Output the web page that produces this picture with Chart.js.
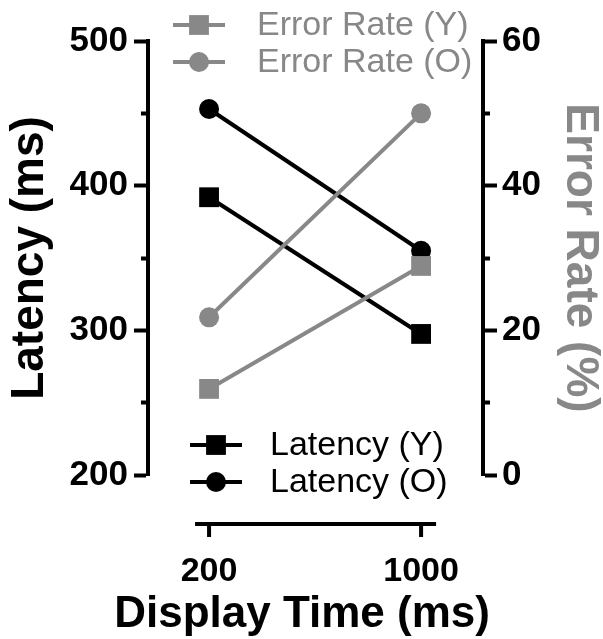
<!DOCTYPE html>
<html>
<head>
<meta charset="utf-8">
<script src="https://cdn.jsdelivr.net/npm/chart.js@4.4.1/dist/chart.umd.min.js"></script>
<style>
  html, body { margin: 0; padding: 0; background: #fff; }
  #wrap { width: 603px; height: 639px; position: relative; }
</style>
</head>
<body>
<div id="wrap"><canvas id="chart"></canvas></div>
<script>
// Data
const categories = ["200", "1000"];
const latencyY = [392, 297.5];
const latencyO = [453, 355];
const errorY = [11.9, 28.9];
const errorO = [21.8, 50];
const latencyTicks = [200, 300, 400, 500];
const errorTicks = [0, 20, 40, 60];
const xTitle = "Display Time (ms)";

const BLACK = "#000000";
const GRAY = "#888888";
const FONT = "'Liberation Sans', Arial, sans-serif";

const toPoints = (arr) => arr.map((v, i) => ({ x: i, y: v }));

// Detached x axis: line, ticks and title, placed below the chart area
const detachedXAxis = {
  id: "detachedXAxis",
  afterDraw(chart) {
    const ctx = chart.ctx;
    const xs = chart.scales.x;
    const y = chart.chartArea.bottom + 49;
    const x0 = xs.getPixelForValue(0);
    const x1 = xs.getPixelForValue(categories.length - 1);
    ctx.save();
    ctx.strokeStyle = BLACK;
    ctx.lineWidth = 4;
    ctx.beginPath();
    ctx.moveTo(x0 - 14, y);
    ctx.lineTo(x1 + 15, y);
    categories.forEach((c, i) => {
      const px = xs.getPixelForValue(i);
      ctx.moveTo(px, y);
      ctx.lineTo(px, y + 13);
    });
    ctx.stroke();

    // axis title (the built-in one gets squeezed to the chart width)
    ctx.fillStyle = BLACK;
    ctx.font = "bold 44px " + FONT;
    ctx.textAlign = "center";
    ctx.textBaseline = "alphabetic";
    ctx.fillText(xTitle, (x0 + x1) / 2 - 13, chart.height - 12);
    ctx.restore();
  },
};

// Two separate legends, built from the dataset styles
const splitLegend = {
  id: "splitLegend",
  afterDraw(chart, args, opts) {
    const ctx = chart.ctx;
    opts.groups.forEach((g) => {
      g.items.forEach((idx, row) => {
        const ds = chart.data.datasets[idx];
        const y = g.y + row * g.rowGap;
        ctx.save();
        ctx.strokeStyle = ds.borderColor;
        ctx.fillStyle = ds.backgroundColor;
        ctx.lineWidth = 4;
        ctx.beginPath();
        ctx.moveTo(g.x, y);
        ctx.lineTo(g.x + 52, y);
        ctx.stroke();
        Chart.helpers.drawPoint(
          ctx,
          { pointStyle: ds.pointStyle, radius: ds.pointRadius, rotation: 0, borderWidth: 0 },
          g.x + 26,
          y
        );
        ctx.fillStyle = ds.borderColor;
        ctx.font = "34px " + FONT;
        ctx.textBaseline = "middle";
        ctx.textAlign = "left";
        ctx.fillText(ds.label, g.textX, y + 1);
        ctx.restore();
      });
    });
  },
};

const ctx = document.getElementById("chart").getContext("2d");
new Chart(ctx, {
  type: "line",
  data: {
    datasets: [
      {
        label: "Latency (Y)",
        data: toPoints(latencyY),
        yAxisID: "y",
        borderColor: BLACK,
        backgroundColor: BLACK,
        pointStyle: "rect",
        pointRadius: 14,
        order: 2,
      },
      {
        label: "Latency (O)",
        data: toPoints(latencyO),
        yAxisID: "y",
        borderColor: BLACK,
        backgroundColor: BLACK,
        pointStyle: "circle",
        pointRadius: 10,
        order: 2,
      },
      {
        label: "Error Rate (Y)",
        data: toPoints(errorY),
        yAxisID: "y1",
        borderColor: GRAY,
        backgroundColor: GRAY,
        pointStyle: "rect",
        pointRadius: 14,
        order: 1,
      },
      {
        label: "Error Rate (O)",
        data: toPoints(errorO),
        yAxisID: "y1",
        borderColor: GRAY,
        backgroundColor: GRAY,
        pointStyle: "circle",
        pointRadius: 10,
        order: 1,
      },
    ],
  },
  options: {
    responsive: true,
    maintainAspectRatio: false,
    animation: false,
    layout: { padding: { top: 41, left: 0, right: 0, bottom: 0 } },
    elements: {
      line: { borderWidth: 4, tension: 0 },
      point: { borderWidth: 0, hoverRadius: 10 },
    },
    plugins: {
      legend: { display: false },
      tooltip: { enabled: false },
      splitLegend: {
        groups: [
          { items: [2, 3], x: 173, textX: 257, y: 25, rowGap: 37 },
          { items: [0, 1], x: 190, textX: 270, y: 445, rowGap: 37 },
        ],
      },
    },
    scales: {
      x: {
        type: "linear",
        min: -0.288,
        max: 1.292,
        afterBuildTicks: (scale) => {
          scale.ticks = categories.map((c, i) => ({ value: i }));
        },
        afterFit: (scale) => { scale.height = 164; },
        grid: { display: false },
        border: { display: false },
        ticks: {
          padding: 68,
          color: BLACK,
          font: { family: FONT, size: 34, weight: "bold" },
          callback: (v) => categories[v],
        },
        title: { display: false },
      },
      y: {
        position: "left",
        min: latencyTicks[0],
        max: latencyTicks[latencyTicks.length - 1],
        afterFit: (scale) => { scale.width = 148; },
        border: { display: true, color: BLACK, width: 4 },
        grid: {
          drawOnChartArea: false,
          tickLength: 14,
          tickWidth: 4,
          tickColor: BLACK,
          tickBorderDash: (c) => (latencyTicks.includes(c.tick.value) ? [] : [0, 7, 50]),
        },
        ticks: {
          stepSize: (latencyTicks[1] - latencyTicks[0]) / 2,
          padding: 6,
          color: BLACK,
          font: { family: FONT, size: 35, weight: "bold" },
          callback: (v) => (latencyTicks.includes(v) ? v : ""),
        },
        title: {
          display: true,
          text: "Latency (ms)",
          color: BLACK,
          font: { family: FONT, size: 46, weight: "bold" },
          padding: { top: 3, bottom: 0 },
        },
      },
      y1: {
        position: "right",
        min: errorTicks[0],
        max: errorTicks[errorTicks.length - 1],
        afterFit: (scale) => { scale.width = 120; },
        border: { display: true, color: BLACK, width: 4 },
        grid: {
          drawOnChartArea: false,
          tickLength: 14,
          tickWidth: 4,
          tickColor: BLACK,
          tickBorderDash: (c) => (errorTicks.includes(c.tick.value) ? [] : [5, 50]),
        },
        ticks: {
          stepSize: (errorTicks[1] - errorTicks[0]) / 2,
          padding: 5,
          color: BLACK,
          font: { family: FONT, size: 35, weight: "bold" },
          callback: (v) => (errorTicks.includes(v) ? v : ""),
        },
        title: {
          display: true,
          text: "Error Rate (%)",
          color: GRAY,
          font: { family: FONT, size: 46, weight: "bold", lineHeight: 1 },
          padding: { top: 0, bottom: 0 },
        },
      },
    },
  },
  plugins: [detachedXAxis, splitLegend],
});
</script>
</body>
</html>
